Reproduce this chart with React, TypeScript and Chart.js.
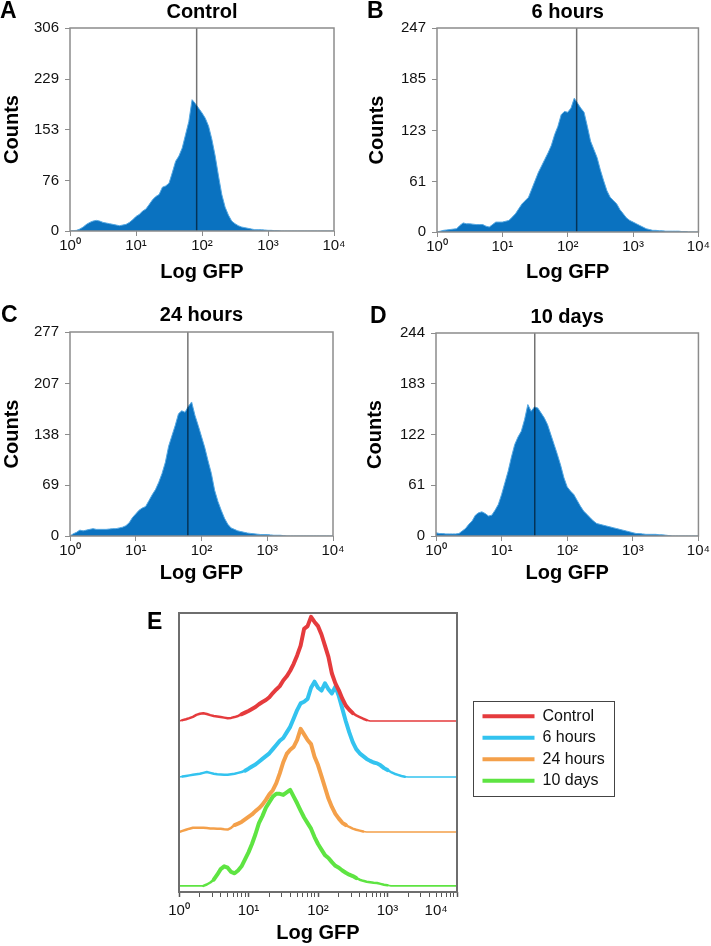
import React, { useEffect, useRef } from "react";
import { Chart, registerables } from "chart.js";

Chart.register(...registerables);

const FONT = "Arial, 'Liberation Sans', Helvetica, sans-serif";

// log10 positions of the histogram bins (GFP = 10^binLog)
const binLogs = [
  0, 0.05, 0.1, 0.15, 0.2, 0.25, 0.3, 0.35, 0.4, 0.45,
  0.5, 0.55, 0.6, 0.65, 0.7, 0.75, 0.8, 0.85, 0.9, 0.95,
  1, 1.05, 1.1, 1.15, 1.2, 1.25, 1.3, 1.35, 1.4, 1.45,
  1.5, 1.55, 1.6, 1.65, 1.7, 1.75, 1.8, 1.85, 1.9, 1.95,
  2, 2.05, 2.1, 2.15, 2.2, 2.25, 2.3, 2.35, 2.4, 2.45,
  2.5, 2.55, 2.6, 2.65, 2.7, 2.75, 2.8, 2.85, 2.9, 2.95,
  3, 3.05, 3.1, 3.15, 3.2, 3.25, 3.3, 3.35, 3.4, 3.45,
  3.5, 3.55, 3.6, 3.65, 3.7, 3.75, 3.8, 3.85, 3.9, 3.95,
  4,
];

const xTickValues = [1, 10, 100, 1000, 10000];
const xTickLabels = ["10\u2070", "10\u00b9", "10\u00b2", "10\u00b3", "10\u2074"];

const panelTitles = ["Control", "6 hours", "24 hours", "10 days"];
const panelLetters = ["A", "B", "C", "D", "E"];

const yTicksControl = [0, 76, 153, 229, 306];
const yTicks6h = [0, 61, 123, 185, 247];
const yTicks24h = [0, 69, 138, 207, 277];
const yTicks10d = [0, 61, 122, 183, 244];

const histControl = [
  0, 0.5, 1, 3, 6, 10, 13, 15, 16, 15,
  13, 12, 11, 10, 9, 8, 9, 10, 13, 17,
  22, 25, 30, 33, 40, 47, 52, 55, 66, 68,
  72, 88, 105, 113, 125, 145, 165, 198, 192, 185,
  178, 170, 158, 138, 113, 83, 55, 36, 24, 15,
  11, 8, 6, 5, 4, 3, 2, 2, 2, 1.5,
  1, 1, 0.5, 0.5, 0, 0, 0, 0, 0, 0,
  0, 0, 0, 0, 0, 0, 0, 0, 0, 0,
  0,
];
const hist6h = [
  0, 1, 2, 2.5, 3, 3.5, 4, 8, 11, 10,
  10, 9.5, 9, 9, 9, 7, 6, 9, 12, 12,
  12, 13, 14, 18, 22, 28, 34, 38, 42, 52,
  62, 72, 80, 88, 96, 105, 118, 128, 142, 146,
  145, 150, 162, 156, 150, 145, 128, 110, 100, 90,
  75, 62, 50, 42, 38, 34, 27, 22, 17, 14,
  12, 10, 8, 6, 4, 3, 2, 2, 1.5, 1.5,
  1, 1, 1, 1, 1, 0.5, 0.5, 0, 0, 0,
  0,
];
const hist24h = [
  0, 3, 5, 8, 7, 8, 9, 10, 9, 9,
  9, 9, 9.5, 10, 10, 11, 12, 14, 18, 25,
  30, 35, 38, 40, 48, 56, 63, 73, 85, 100,
  122, 136, 150, 166, 170, 168, 176, 182, 164, 150,
  135, 120, 102, 85, 62, 47, 35, 24, 16, 11,
  9, 7, 6, 5, 4, 3.5, 3, 2.5, 2, 2,
  2, 1.5, 1, 1, 1, 0.5, 0, 0, 0, 0,
  0, 0, 0, 0, 0, 0, 0, 0, 0, 0,
  0,
];
const hist10d = [
  4, 3, 3, 2.5, 2.5, 2.5, 2.5, 3, 6, 9,
  14, 18, 25, 28, 29, 27, 24, 25, 31, 38,
  50, 64, 78, 95, 110, 119, 126, 140, 158, 150,
  155, 154, 148, 142, 134, 122, 110, 98, 85, 70,
  59, 54, 50, 43, 36, 30, 26, 22, 18, 15,
  14, 13, 12, 11, 10, 9, 8, 7, 6, 5,
  4, 3, 3, 2.5, 2, 2, 2, 2, 1.5, 1.5,
  1, 0.5, 0, 0, 0, 0, 0, 0, 0, 0,
  0,
];

// vertical marker (median) per panel, in GFP units
const medianGFP = [83, 137, 62, 32];

// Panel E: overlaid, vertically offset curves (heights above each baseline, y range 0..100)
const eLegendLabels = ["Control", "6 hours", "24 hours", "10 days"];
const eOffsets = [61.3, 41.2, 21.5, 2.2];
const eControl = [
  0, 0.3, 0.6, 1, 1.5, 2.2, 2.6, 2.8, 2.5, 2.1,
  1.8, 1.6, 1.4, 1.2, 1, 1.1, 1.4, 1.8, 2.4, 3,
  3.6, 4.3, 5, 6, 6.8, 7.5, 8.5, 10, 11.3, 12.5,
  14.5, 16, 18, 20.5, 23.5, 27, 33, 34, 37.3, 35.5,
  34, 31, 27, 23, 17, 13.5, 11, 8, 5.5, 4,
  2.8, 2, 1.4, 0.8, 0.3, 0, 0, 0, 0, 0,
  0, 0, 0, 0, 0, 0, 0, 0, 0, 0,
  0, 0, 0, 0, 0, 0, 0, 0, 0, 0,
  0,
];
const e6h = [
  0, 0.2, 0.4, 0.6, 0.8, 1, 1.2, 1.5, 1.8, 1.5,
  1.2, 1, 0.9, 0.8, 0.8, 1, 1.2, 1.5, 1.8, 2.3,
  3, 3.8, 4.5, 5.5, 6.5, 7.5, 8.5, 10, 11.5, 13,
  14, 16, 18, 21, 24, 26.4, 27, 28, 32, 34.2,
  32, 31, 33.6, 31.5, 30, 32.4, 29, 24.5, 20, 16,
  12.5, 10, 8.5, 7.5, 6.5, 5.8, 5.2, 4.9, 4.2, 3.2,
  2.5, 1.8, 1.2, 0.8, 0.4, 0.1, 0, 0, 0, 0,
  0, 0, 0, 0, 0, 0, 0, 0, 0, 0,
  0,
];
const e24h = [
  0, 0.4, 0.8, 1.2, 1.5, 1.5, 1.5, 1.5, 1.4, 1.3,
  1.3, 1.2, 1.2, 1, 0.9, 1.5, 2.5, 3, 3.6, 4.5,
  5.4, 6.3, 7.5, 8.5, 9.8, 11.5, 13.5, 15, 17.5, 21,
  25, 28, 29.5, 30.5, 33, 37, 35, 33, 31.5, 27,
  24, 20, 16, 12, 9, 6.5, 4.8, 3.3, 2.5, 1.8,
  1.2, 0.8, 0.5, 0.2, 0, 0, 0, 0, 0, 0,
  0, 0, 0, 0, 0, 0, 0, 0, 0, 0,
  0, 0, 0, 0, 0, 0, 0, 0, 0, 0,
  0,
];
const e10d = [
  0, 0, 0, 0, 0, 0, 0, 0, 0.5, 1.2,
  2.2, 4, 6, 7, 6.5, 5, 4.5, 5.5, 7, 9.5,
  12, 15, 18.5, 22.5, 25, 28, 30, 32, 33, 33,
  32.6, 33.5, 34.4, 32, 29.6, 27, 24.5, 22.5, 20.5, 17.5,
  15, 13, 11, 10, 8.5, 7.2, 6.5, 5.5, 4.7, 4,
  3.5, 2.8, 2.2, 1.8, 1.5, 1.3, 1.1, 1, 0.7, 0.4,
  0.2, 0, 0, 0, 0, 0, 0, 0, 0, 0,
  0, 0, 0, 0, 0, 0, 0, 0, 0, 0,
  0,
];
const eColors = ["#e53b3d", "#33c3ef", "#f4a04a", "#5ee442"];

const HIST_FILL = "#0a72c0";
const HIST_EDGE = "#55a8e2";

const framePlugin = {
  id: "frame",
  afterDatasetsDraw(chart: any, _args: any, opts: any) {
    const { left, top, right, bottom } = chart.chartArea;
    const ctx = chart.ctx;
    ctx.save();
    ctx.strokeStyle = opts.color || "#888";
    ctx.lineWidth = opts.width || 1.5;
    ctx.strokeRect(left, top, right - left, bottom - top);
    ctx.restore();
  },
};

// keeps the built-in legend at a fixed width (Chart.js otherwise caps side boxes)
const legendWidthPlugin = {
  id: "legendWidth",
  beforeLayout(chart: any, _args: any, opts: any) {
    const lg = chart.legend;
    if (lg && !lg.__fixedWidth) {
      const orig = lg.fit.bind(lg);
      lg.fit = function () {
        orig();
        lg.width = opts.width;
      };
      lg.__fixedWidth = true;
    }
  },
  afterLayout(chart: any, _args: any, opts: any) {
    const lg = chart.legend;
    if (lg && opts.shiftY) {
      lg.top += opts.shiftY;
      lg.bottom += opts.shiftY;
    }
  },
};

const legendBoxPlugin = {
  id: "legendBox",
  afterDraw(chart: any) {
    const lg = chart.legend;
    const hb = lg && lg.legendHitBoxes;
    if (!hb || !hb.length) return;
    let l = Infinity, t = Infinity, r = -Infinity, b = -Infinity;
    hb.forEach((h: any) => {
      l = Math.min(l, h.left);
      t = Math.min(t, h.top);
      r = Math.max(r, h.left + h.width);
      b = Math.max(b, h.top + h.height);
    });
    const ctx = chart.ctx;
    ctx.save();
    ctx.strokeStyle = "#444";
    ctx.lineWidth = 1;
    ctx.strokeRect(Math.round(l - 10) + 0.5, Math.round(t - 7) + 0.5, Math.round(r - l + 19), Math.round(b - t + 14));
    ctx.restore();
  },
};

type Layout = {
  left: number; top: number; w: number; h: number;
  padLeft: number; padRight: number; yAxisW: number;
  titleTop: number; titleBottom: number; xAxisH: number; xTitleBottom: number;
};

const histLayouts: Layout[] = [
  { left: 0, top: 0, w: 350, h: 290, padLeft: 0, padRight: 16, yAxisW: 70, titleTop: 0, titleBottom: 4, xAxisH: 59, xTitleBottom: 6 },
  { left: 350, top: 0, w: 361, h: 290, padLeft: 15, padRight: 12, yAxisW: 72, titleTop: 0, titleBottom: 4, xAxisH: 58, xTitleBottom: 6 },
  { left: 0, top: 300, w: 350, h: 290, padLeft: 0, padRight: 17, yAxisW: 70, titleTop: 3, titleBottom: 5, xAxisH: 54, xTitleBottom: 5 },
  { left: 350, top: 300, w: 361, h: 290, padLeft: 13, padRight: 12, yAxisW: 73, titleTop: 5, titleBottom: 4, xAxisH: 54, xTitleBottom: 5 },
];

function useChart(ref: React.RefObject<HTMLCanvasElement>, makeConfig: () => any) {
  useEffect(() => {
    if (!ref.current) return;
    const chart = new Chart(ref.current, makeConfig());
    return () => chart.destroy();
  }, []);
}

function HistPanel({ idx, counts, yTicks }: { idx: number; counts: number[]; yTicks: number[] }) {
  const ref = useRef<HTMLCanvasElement>(null);
  const L = histLayouts[idx];
  useChart(ref, () => {
    const yMax = yTicks[yTicks.length - 1];
    return {
      type: "line",
      data: {
        datasets: [
          {
            data: binLogs.map((l, i) => ({ x: Math.pow(10, l), y: counts[i] })),
            fill: "origin",
            backgroundColor: HIST_FILL,
            borderColor: HIST_EDGE,
            borderWidth: 1,
            pointRadius: 0,
            tension: 0,
            order: 2,
          },
          {
            data: [
              { x: medianGFP[idx], y: 0 },
              { x: medianGFP[idx], y: yMax },
            ],
            borderColor: "rgba(0,0,0,0.55)",
            borderWidth: 1.5,
            pointRadius: 0,
            fill: false,
            order: 1,
          },
        ],
      },
      options: {
        animation: false,
        responsive: false,
        devicePixelRatio: 1,
        events: [],
        layout: { padding: { left: L.padLeft, right: L.padRight, top: 0, bottom: 0 } },
        plugins: {
          legend: { display: false },
          tooltip: { enabled: false },
          title: {
            display: true,
            text: panelTitles[idx],
            fullSize: false,
            color: "#000",
            font: { family: FONT, size: 20, weight: "bold" },
            padding: { top: L.titleTop, bottom: L.titleBottom },
          },
          frame: { color: "#8c8c8c", width: 1.5 },
        },
        scales: {
          x: {
            type: "logarithmic",
            min: 1,
            max: 10000,
            afterBuildTicks: (s: any) => {
              s.ticks = xTickValues.map((v) => ({ value: v }));
            },
            afterFit: (s: any) => {
              s.height = L.xAxisH;
            },
            ticks: {
              autoSkip: false,
              maxRotation: 0,
              padding: 1,
              color: "#111",
              font: { family: FONT, size: 15 },
              callback: (_v: any, i: number) => xTickLabels[i],
            },
            grid: { display: true, drawOnChartArea: false, drawTicks: true, tickLength: 5, color: "#8c8c8c" },
            border: { display: false },
            title: {
              display: true,
              text: "Log GFP",
              color: "#000",
              font: { family: FONT, size: 20, weight: "bold" },
              padding: { top: 0, bottom: L.xTitleBottom },
            },
          },
          y: {
            type: "linear",
            min: 0,
            max: yMax,
            afterBuildTicks: (s: any) => {
              s.ticks = yTicks.map((v) => ({ value: v }));
            },
            afterFit: (s: any) => {
              s.width = L.yAxisW;
            },
            ticks: {
              padding: 6,
              color: "#111",
              font: { family: FONT, size: 15 },
              callback: (_v: any, i: number) => String(yTicks[i]),
            },
            grid: { display: true, drawOnChartArea: false, drawTicks: true, tickLength: 5, color: "#8c8c8c" },
            border: { display: false },
            title: {
              display: true,
              text: "Counts",
              color: "#000",
              font: { family: FONT, size: 20, weight: "bold" },
              padding: { top: 0, bottom: 0 },
            },
          },
        },
      },
      plugins: [framePlugin],
    };
  });
  return (
    <canvas
      ref={ref}
      width={L.w}
      height={L.h}
      style={{ position: "absolute", left: L.left, top: L.top, width: L.w, height: L.h }}
    />
  );
}

const overlayLayout = { left: 150, top: 590, w: 480, h: 356 };

function OverlayPanel() {
  const ref = useRef<HTMLCanvasElement>(null);
  const series = [eControl, e6h, e24h, e10d];
  useChart(ref, () => ({
    type: "line",
    data: {
      datasets: series.map((h, k) => ({
        label: eLegendLabels[k],
        data: binLogs.map((l, i) => ({ x: Math.pow(10, l), y: eOffsets[k] + h[i] })),
        borderColor: eColors[k],
        backgroundColor: eColors[k],
        pointBorderColor: eColors[k],
        pointBorderWidth: 4,
        pointRadius: 0,
        borderWidth: 4,
        tension: 0,
        fill: false,
        borderJoinStyle: "round",
        borderCapStyle: "round",
        segment: {
          borderWidth: (ctx: any) => {
            const m = Math.max(ctx.p0.parsed.y, ctx.p1.parsed.y) - eOffsets[k];
            return m < 0.3 ? 1.6 : m < 3 ? 2.5 : 4;
          },
        },
      })),
    },
    options: {
      animation: false,
      responsive: false,
      devicePixelRatio: 1,
      events: [],
      layout: { padding: { left: 0, right: 15, top: 23, bottom: 0 } },
      plugins: {
        tooltip: { enabled: false },
        title: { display: false },
        legend: {
          display: true,
          position: "right",
          align: "center",
          fullSize: false,
          labels: {
            usePointStyle: true,
            pointStyle: "line",
            pointStyleWidth: 52,
            padding: 5.5,
            color: "#111",
            font: { family: FONT, size: 16 },
          },
        },
        legendWidth: { width: 138, shiftY: -4 },
        frame: { color: "#6e6e6e", width: 2 },
      },
      scales: {
        x: {
          type: "logarithmic",
          min: 1,
          max: 10000,
          afterBuildTicks: (s: any) => {
            const t: any[] = [];
            xTickValues.slice(0, 4).forEach((d) => {
              for (let m = 1; m <= 9; m++) t.push({ value: m * d, major: m === 1 });
            });
            t.push({ value: 10000, major: true });
            s.ticks = t;
          },
          afterFit: (s: any) => {
            s.height = 54;
          },
          ticks: {
            autoSkip: false,
            maxRotation: 0,
            padding: 5,
            color: "#111",
            font: { family: FONT, size: 15 },
            callback: (v: any) => {
              const k = xTickValues.indexOf(Number(v));
              if (k < 0) return "";
              // the last decade label sits left of the axis end in the original figure
              return k === xTickValues.length - 1
                ? xTickLabels[k] + "\u2007\u2007\u2007\u2007\u2007"
                : xTickLabels[k];
            },
          },
          grid: {
            display: true,
            drawOnChartArea: false,
            drawTicks: true,
            tickLength: 5,
            color: "#555",
            tickWidth: (ctx: any) => (ctx.tick && ctx.tick.major ? 1.5 : 1),
          },
          border: { display: false },
          title: {
            display: true,
            text: "Log GFP",
            color: "#000",
            font: { family: FONT, size: 20, weight: "bold" },
            padding: { top: 0, bottom: 1 },
          },
        },
        y: {
          type: "linear",
          min: 0,
          max: 100,
          ticks: { display: false },
          grid: { display: false },
          border: { display: false },
          afterFit: (s: any) => {
            s.width = 29;
          },
        },
        y2: {
          type: "linear",
          position: "right",
          ticks: { display: false },
          grid: { display: false },
          border: { display: false },
          afterFit: (s: any) => {
            s.width = 20;
          },
        },
      },
    },
    plugins: [legendWidthPlugin, framePlugin, legendBoxPlugin],
  }));
  const L = overlayLayout;
  return (
    <canvas
      ref={ref}
      width={L.w}
      height={L.h}
      style={{ position: "absolute", left: L.left, top: L.top, width: L.w, height: L.h }}
    />
  );
}

const letterPositions = [
  { left: 0, top: -1 },
  { left: 367, top: -1 },
  { left: 1, top: 303 },
  { left: 370, top: 304 },
  { left: 147, top: 610 },
];

export default function App() {
  const hists = [histControl, hist6h, hist24h, hist10d];
  const yTicks = [yTicksControl, yTicks6h, yTicks24h, yTicks10d];
  return (
    <div style={{ position: "absolute", left: 0, top: 0, width: 711, height: 946, background: "#fff", overflow: "hidden" }}>
      {hists.map((h, i) => (
        <HistPanel key={i} idx={i} counts={h} yTicks={yTicks[i]} />
      ))}
      <OverlayPanel />
      {panelLetters.map((t, i) => (
        <div
          key={t}
          style={{
            position: "absolute",
            left: letterPositions[i].left,
            top: letterPositions[i].top,
            font: `bold 23px ${FONT}`,
            lineHeight: "23px",
            color: "#000",
          }}
        >
          {t}
        </div>
      ))}
    </div>
  );
}
